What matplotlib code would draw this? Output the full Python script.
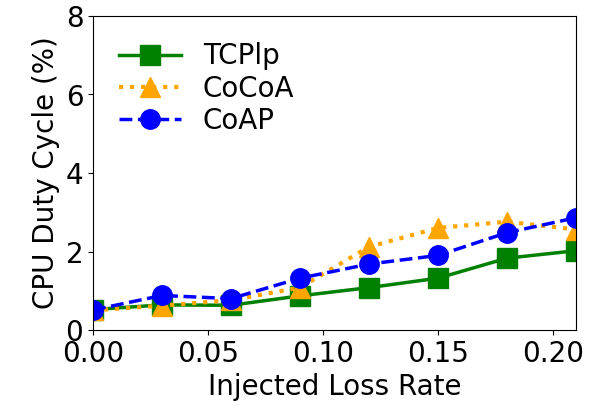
import matplotlib
matplotlib.use("Agg")
import matplotlib.pyplot as plt

loss = [0.00, 0.03, 0.06, 0.09, 0.12, 0.15, 0.18, 0.21]
tcplp = [0.52, 0.64, 0.63, 0.87, 1.08, 1.32, 1.83, 2.02]
cocoa = [0.50, 0.62, 0.76, 1.08, 2.12, 2.60, 2.76, 2.56]
coap = [0.51, 0.88, 0.80, 1.32, 1.68, 1.90, 2.48, 2.86]

fig = plt.figure(figsize=(5.9, 4.19), dpi=100)
ax = fig.add_axes([93/590, 1-330/419, (576-93)/590, (330-16)/419])
ax.plot(loss, tcplp, color="green", linestyle="-", marker="s", lw=2.5, ms=14, label="TCPlp")
ax.plot(loss, cocoa, color="orange", linestyle=":", marker="^", lw=3, ms=14, label="CoCoA")
ax.plot(loss, coap, color="blue", linestyle="--", marker="o", lw=2.5, ms=14, label="CoAP")
ax.set_xlim(0, 0.21)
ax.set_ylim(0, 8)
ax.set_xticks([0.00, 0.05, 0.10, 0.15, 0.20])
ax.set_xticklabels(["0.00", "0.05", "0.10", "0.15", "0.20"])
ax.set_yticks([0, 2, 4, 6, 8])
ax.tick_params(labelsize=20)
ax.set_xlabel("Injected Loss Rate", fontsize=20)
ax.set_ylabel("CPU Duty Cycle (%)", fontsize=20)
ax.legend(loc="upper left", frameon=False, fontsize=20, labelspacing=0.15,
          handlelength=2.2, borderaxespad=0.55)
fig.savefig("out.png", dpi=100)
